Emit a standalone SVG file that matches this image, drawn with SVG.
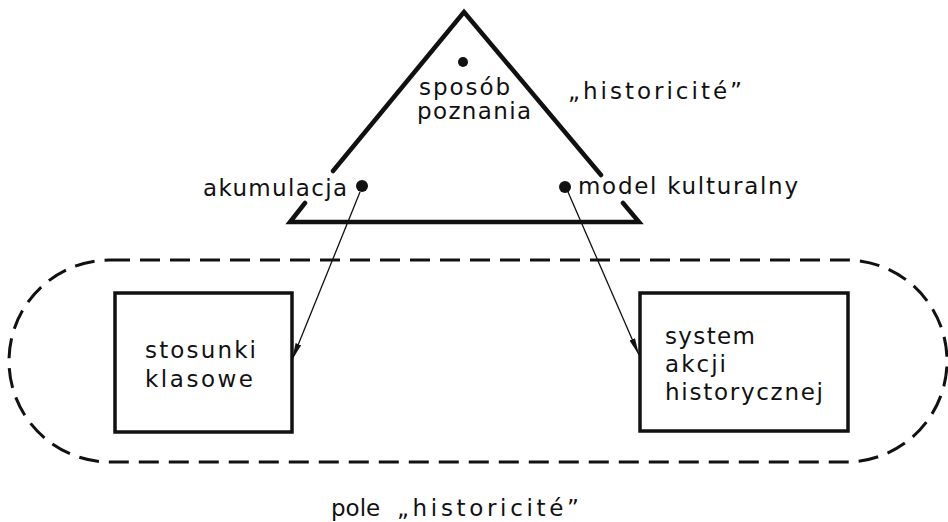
<svg xmlns="http://www.w3.org/2000/svg" width="948" height="522" viewBox="0 0 948 522">
<defs>
<style>
.t{font-family:"DejaVu Sans","Liberation Sans",sans-serif;font-size:23px;fill:#111}
.box{fill:none;stroke:#111;stroke-width:3.5}
.tri{fill:none;stroke:#111;stroke-width:4.5;stroke-linecap:round;stroke-linejoin:miter}
.dot{fill:#111}
.arr{stroke:#111;stroke-width:1.3;fill:none}
</style>
<marker id="ah" markerUnits="userSpaceOnUse" markerWidth="18" markerHeight="8" refX="17" refY="3.5" orient="auto">
<path d="M0,0.5 L17,3.5 L0,6.5 z" fill="#111"/>
</marker>
</defs>
<rect width="948" height="522" fill="#fff"/>
<g id="field">
<rect x="9" y="260" width="938" height="202" rx="101" ry="101" fill="none" stroke="#111" stroke-width="3" stroke-dasharray="20 10"/>
</g>
<g id="triangle">
<polyline class="tri" points="333,171 464,12 601,175"/>
<polyline class="tri" points="305,203 290,222 639,222 623,203"/>
<circle class="dot" cx="463" cy="62" r="5"/>
<text class="t" x="419" y="95" textLength="91" lengthAdjust="spacing">sposób</text>
<text class="t" x="417" y="119" textLength="114" lengthAdjust="spacing">poznania</text>
</g>
<g id="akumulacja">
<circle class="dot" cx="362" cy="186" r="6"/>
<text class="t" x="203" y="196" textLength="144" lengthAdjust="spacing">akumulacja</text>
</g>
<g id="model">
<circle class="dot" cx="565" cy="187" r="6"/>
<text class="t" x="578" y="194" textLength="220" lengthAdjust="spacing">model kulturalny</text>
</g>
<g id="historicite">
<text class="t" x="568" y="99" textLength="174" lengthAdjust="spacing">„historicité”</text>
</g>
<g id="stosunki">
<rect class="box" x="115" y="293" width="177" height="139"/>
<text class="t" x="145" y="358" textLength="111" lengthAdjust="spacing">stosunki</text>
<text class="t" x="145" y="387" textLength="108" lengthAdjust="spacing">klasowe</text>
</g>
<g id="system">
<rect class="box" x="640" y="293" width="208" height="138"/>
<text class="t" x="665" y="344" textLength="90" lengthAdjust="spacing">system</text>
<text class="t" x="665" y="372" textLength="61" lengthAdjust="spacing">akcji</text>
<text class="t" x="665" y="400" textLength="158" lengthAdjust="spacing">historycznej</text>
</g>
<g id="connectors">
<line class="arr" x1="360" y1="192" x2="292" y2="360" marker-end="url(#ah)"/>
<line class="arr" x1="568" y1="192" x2="639" y2="355" marker-end="url(#ah)"/>
</g>
<g id="caption">
<text class="t" y="516"><tspan x="331">pole</tspan><tspan x="397" textLength="182" lengthAdjust="spacing">„historicité”</tspan></text>
</g>
</svg>
